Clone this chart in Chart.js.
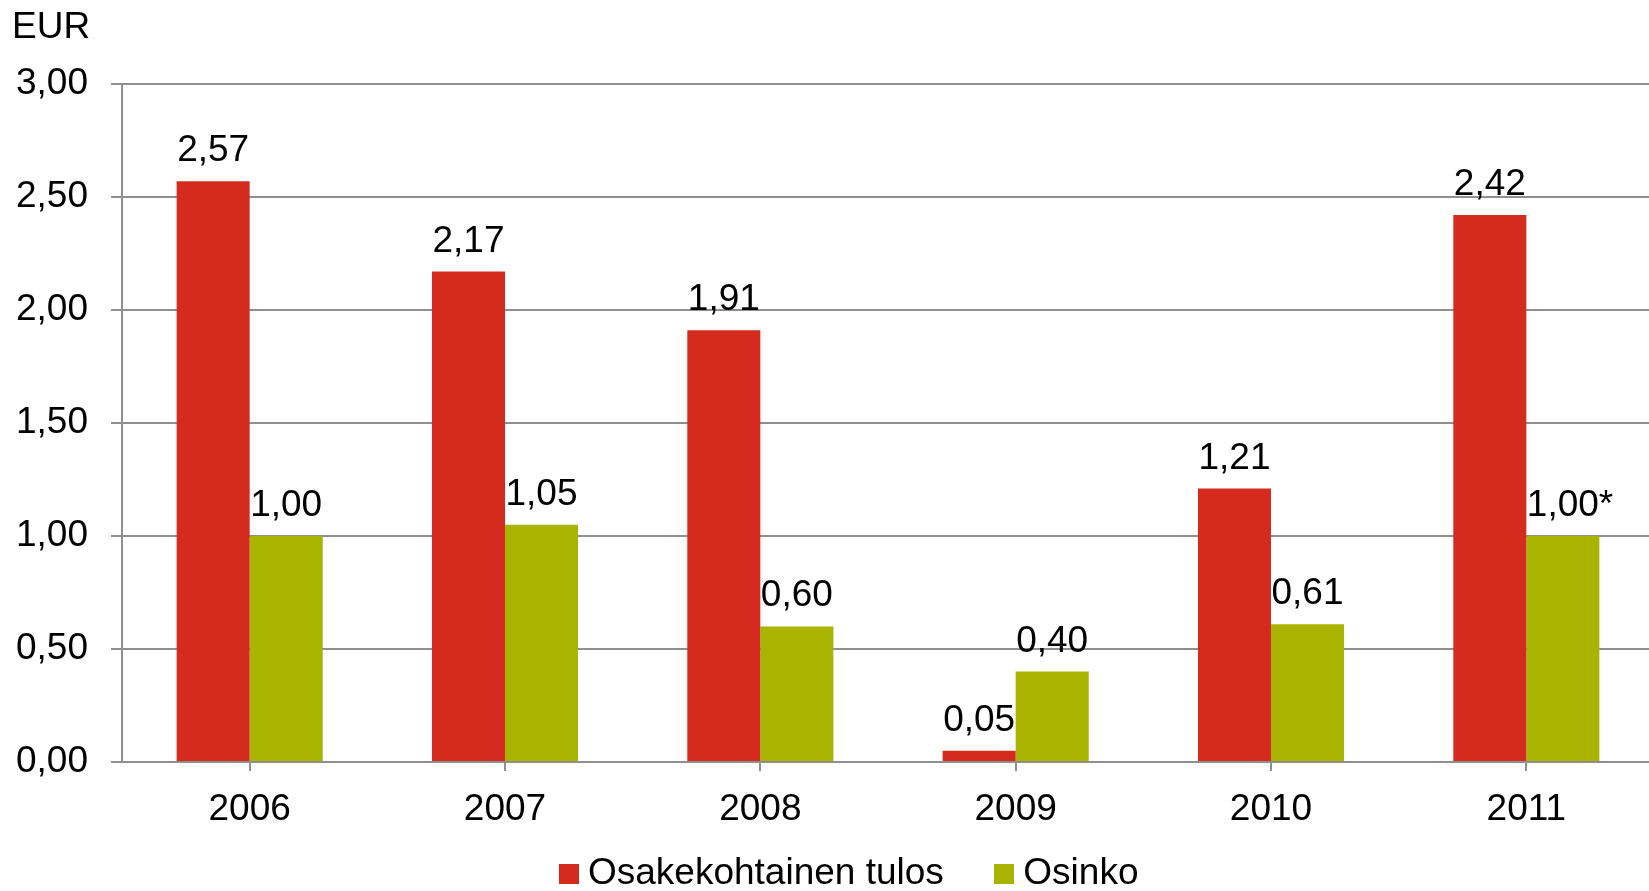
<!DOCTYPE html>
<html>
<head>
<meta charset="utf-8">
<script src="https://cdn.jsdelivr.net/npm/chart.js@4/dist/chart.umd.min.js"></script>
<style>
  html, body { margin: 0; padding: 0; background: #ffffff; overflow: hidden; width: 1649px; height: 891px; }
  canvas { display: block; }
</style>
</head>
<body>
<canvas id="c" width="1654" height="891"></canvas>
<script>
// ---- data ----
const categories = ['2006', '2007', '2008', '2009', '2010', '2011'];
const epsValues = [2.57, 2.17, 1.91, 0.05, 1.21, 2.42];
const dividendValues = [1.00, 1.05, 0.60, 0.40, 0.61, 1.00];
const dividendNotes = ['', '', '', '', '', '*'];
const epsNotes = ['', '', '', '', '', ''];
const seriesNames = ['Osakekohtainen tulos', 'Osinko'];
const yTicks = [0, 0.5, 1.0, 1.5, 2.0, 2.5, 3.0];
const unitLabel = 'EUR';

const FONT = "'Liberation Sans', Arial, sans-serif";
const FS = 37;
const GRID = '#8f8f8f';
const RED = '#d52b1e';
const GREEN = '#a9b400';

function fmt(v) { return v.toFixed(2).replace('.', ','); }

// square legend marker (20x20)
function marker(color) {
  const c = document.createElement('canvas');
  c.width = 20; c.height = 20;
  const g = c.getContext('2d');
  g.fillStyle = color;
  g.fillRect(0, 0, 20, 20);
  return c;
}

const notes = [epsNotes, dividendNotes];

const valueLabels = {
  id: 'valueLabels',
  afterDatasetsDraw(chart) {
    const ctx = chart.ctx;
    ctx.save();
    ctx.font = FS + 'px ' + FONT;
    ctx.fillStyle = '#000000';
    ctx.textBaseline = 'alphabetic';
    chart.data.datasets.forEach((ds, di) => {
      const meta = chart.getDatasetMeta(di);
      meta.data.forEach((bar, i) => {
        const txt = fmt(ds.data[i]);
        const w = ctx.measureText(txt).width;
        const y = bar.y - 20;
        ctx.textAlign = 'center';
        ctx.fillText(txt, bar.x, y);
        const n = notes[di][i];
        if (n) {
          ctx.textAlign = 'left';
          ctx.fillText(n, bar.x + w / 2, y);
        }
      });
    });
    ctx.restore();
  }
};

const unitText = {
  id: 'unitText',
  afterDraw(chart) {
    const ctx = chart.ctx;
    ctx.save();
    ctx.font = FS + 'px ' + FONT;
    ctx.fillStyle = '#000000';
    ctx.textAlign = 'left';
    ctx.textBaseline = 'alphabetic';
    ctx.fillText(unitLabel, 12, 38);
    ctx.restore();
  }
};

const legendShift = {
  id: 'legendShift',
  afterLayout(chart) {
    const lg = chart.legend;
    if (!lg) return;
    const dx = 26, dy = -36;
    lg.left += dx; lg.right += dx;
    lg.top += dy; lg.bottom += dy;
  }
};

new Chart(document.getElementById('c'), {
  type: 'bar',
  data: {
    labels: categories,
    datasets: [
      { label: seriesNames[0], data: epsValues, backgroundColor: RED, borderWidth: 0,
        pointStyle: marker(RED),
        categoryPercentage: 0.572, barPercentage: 1.0 },
      { label: seriesNames[1], data: dividendValues, backgroundColor: GREEN, borderWidth: 0,
        pointStyle: marker(GREEN),
        categoryPercentage: 0.572, barPercentage: 1.0 }
    ]
  },
  options: {
    responsive: false,
    animation: false,
    devicePixelRatio: 1,
    layout: { padding: { top: 84, left: 0, right: 0, bottom: -47 } },
    plugins: {
      title: { display: false },
      tooltip: { enabled: false },
      legend: {
        display: true,
        position: 'bottom',
        align: 'center',
        labels: {
          usePointStyle: true,
          pointStyleWidth: 2,
          boxWidth: 20,
          boxHeight: 20,
          padding: 59,
          color: '#000000',
          font: { family: FONT, size: FS }
        }
      }
    },
    scales: {
      x: {
        grid: { display: true, drawOnChartArea: false, drawTicks: true, tickLength: 9,
                offset: false, color: GRID, lineWidth: 2 },
        border: { display: true, color: GRID, width: 2 },
        ticks: { color: '#000000', font: { family: FONT, size: FS }, padding: 17, maxRotation: 0 },
        afterFit(scale) { scale.height = 70; }
      },
      y: {
        min: 0,
        max: 3,
        afterBuildTicks(scale) { scale.ticks = yTicks.map(v => ({ value: v })); },
        grid: { color: GRID, lineWidth: 2, tickLength: 11, drawTicks: true },
        border: { display: true, color: GRID, width: 2 },
        ticks: {
          color: '#000000',
          font: { family: FONT, size: FS },
          padding: 23,
          callback: (v) => fmt(v)
        },
        afterFit(scale) { scale.width = 122; }
      }
    }
  },
  plugins: [valueLabels, unitText, legendShift]
});
</script>
</body>
</html>
